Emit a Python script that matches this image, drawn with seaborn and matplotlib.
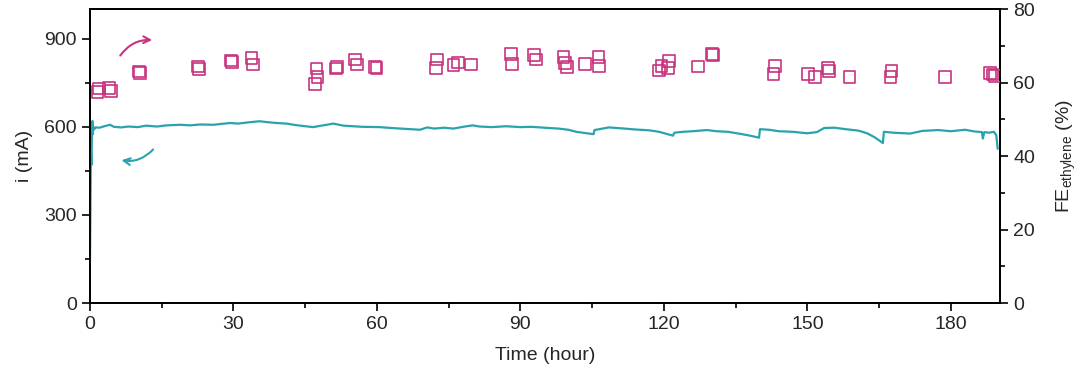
import matplotlib
matplotlib.use("Agg")
import matplotlib.pyplot as plt
import seaborn as sns
import pandas as pd
from matplotlib.ticker import MultipleLocator

# ---- data ----
cur_time = [0, 0.05, 0.1, 0.15, 0.2, 0.3, 0.4, 0.5, 0.6, 0.7, 0.9, 1.2, 2, 3, 4.2, 5, 6.5, 8, 10, 11.8,
            14, 16, 18.8, 21, 23, 25.8, 27.5, 29.3, 31, 33, 35.5, 37, 39, 41.1, 43, 45, 46.7, 48, 49.5, 50.9,
            53, 55, 57, 60.6, 63, 66, 69, 70.5, 72, 74, 76, 78, 80, 81.5, 84, 87, 90, 92.3, 95, 98,
            100, 101.7, 103, 105.3, 105.5, 108.5, 111, 114, 117, 119, 121.9, 122.2, 124, 126, 129, 131,
            133.4, 136, 138, 139.9, 140.1, 142, 144, 147, 150, 152, 153.5, 155.7, 158, 160.7, 162.5, 164,
            165.8, 166.0, 168, 171.5, 174, 177.3, 180, 183, 185, 186.5, 186.7, 187.0, 188, 189, 189.5, 189.8]
cur_mA = [140, 230, 330, 420, 520, 470, 560, 620, 575, 600, 592, 598, 597, 602, 607, 600, 598, 601, 599, 604,
          601, 605, 607, 605, 608, 607, 610, 613, 611, 615, 619, 616, 613, 611, 606, 602, 599, 603, 607, 611,
          604, 602, 600, 599, 596, 593, 590, 598, 594, 597, 594, 600, 605, 601, 599, 602, 599, 600, 597, 594,
          590, 583, 580, 575, 589, 598, 595, 591, 588, 583, 570, 580, 583, 585, 589, 585,
          583, 576, 570, 563, 592, 590, 585, 583, 578, 582, 596, 597, 592, 587, 578, 565,
          545, 583, 580, 577, 586, 589, 585, 590, 584, 582, 560, 582, 580, 583, 572, 525]

fe_time = [1.6, 1.9, 4.0, 4.4, 10.2, 10.5, 22.6, 22.8, 29.5, 29.7, 33.8, 34.1, 47.0, 47.4, 47.6, 51.4, 51.6,
           55.4, 55.9, 59.6, 59.9, 72.3, 72.5, 76.0, 77.0, 79.7, 88.0, 88.2, 92.8, 93.2, 99.0, 99.3, 99.8,
           103.5, 106.3, 106.5, 119.0, 119.5, 120.9, 121.1, 127.2, 130.1, 130.3, 142.9, 143.2, 150.2, 151.6,
           154.3, 154.5, 158.8, 167.4, 167.6, 178.8, 188.2, 188.7, 189.2]
fe_pct = [57.5, 58.4, 58.6, 57.7, 63.1, 62.7, 64.4, 63.7, 66.1, 65.7, 66.8, 65.0, 59.7, 63.9, 61.5, 63.9, 64.3,
          66.3, 65.0, 64.3, 64.0, 64.1, 66.3, 64.8, 65.5, 65.0, 67.9, 65.2, 67.5, 66.3, 67.0, 65.4, 64.3,
          65.2, 67.0, 64.5, 63.3, 64.5, 64.1, 65.9, 64.4, 67.8, 67.5, 62.4, 64.5, 62.4, 61.5,
          64.0, 63.2, 61.5, 61.5, 63.2, 61.5, 62.7, 62.3, 61.8]

x_ticks = [0, 30, 60, 90, 120, 150, 180]
left_ticks = [0, 300, 600, 900]
right_ticks = [0, 20, 40, 60, 80]

TEAL = "#2aa3ae"
MAGENTA = "#c8347f"

sns.set_theme(style="ticks")
plt.rcParams["font.family"] = ["Liberation Sans", "DejaVu Sans"]
plt.rcParams["mathtext.fontset"] = "custom"
plt.rcParams["mathtext.rm"] = "Liberation Sans"

cur_df = pd.DataFrame({"t": cur_time, "i": cur_mA})
fe_df = pd.DataFrame({"t": fe_time, "fe": fe_pct})

fig, ax = plt.subplots(figsize=(10.8, 3.75), dpi=100)
fig.subplots_adjust(left=0.0833, right=0.926, bottom=0.192, top=0.975)

sns.lineplot(data=cur_df, x="t", y="i", ax=ax, color=TEAL, linewidth=1.6, sort=False,
             estimator=None, zorder=3)
ax.set_xlim(0, 190.3)
ax.set_ylim(0, 1000)
ax.set_xticks(x_ticks)
ax.set_yticks(left_ticks)
ax.xaxis.set_minor_locator(MultipleLocator(15))
ax.yaxis.set_minor_locator(MultipleLocator(150))
ax.set_xlabel("Time (hour)", fontsize=14, labelpad=10)
ax.set_ylabel("i (mA)", fontsize=14, labelpad=8)

ax2 = ax.twinx()
sns.scatterplot(data=fe_df, x="t", y="fe", ax=ax2, marker="s", s=70, facecolors="none",
                edgecolor=MAGENTA, linewidth=1.2, zorder=3)
ax2.set_ylim(0, 80)
ax2.set_yticks(right_ticks)
ax2.yaxis.set_minor_locator(MultipleLocator(10))
ax2.set_ylabel(r"FE$_{\mathregular{ethylene}}$ (%)", fontsize=14, labelpad=14)
ax2.set_xlim(0, 190.3)

for a in (ax, ax2):
    for sp in a.spines.values():
        sp.set_visible(True)
        sp.set_linewidth(1.3)
        sp.set_color("black")
    a.tick_params(which="major", length=6, width=1.2, labelsize=14, color="black")
    a.tick_params(which="minor", length=3.5, width=1.2, color="black")

# curved arrows
ax.annotate("", xy=(13.6, 895), xytext=(6.0, 835),
            arrowprops=dict(arrowstyle="->", color=MAGENTA, lw=1.5,
                            connectionstyle="arc3,rad=-0.3"))
ax.annotate("", xy=(6.0, 488), xytext=(13.6, 530),
            arrowprops=dict(arrowstyle="->", color=TEAL, lw=1.5,
                            connectionstyle="arc3,rad=-0.3"))

fig.savefig("out.png", dpi=100)
